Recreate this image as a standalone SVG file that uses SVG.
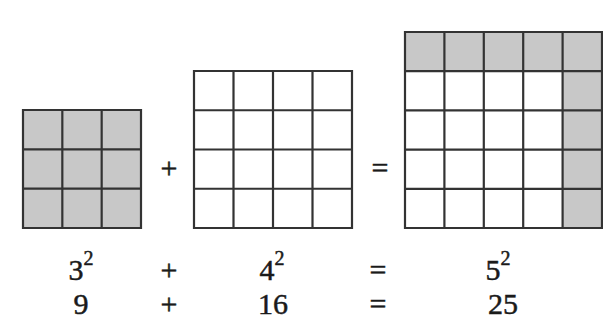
<svg xmlns="http://www.w3.org/2000/svg" width="603" height="320" viewBox="0 0 603 320">
<style>
.bg{fill:#ffffff}
.shade{fill:#c8c8c8;stroke:none}
.grid{fill:none;stroke:#333333;stroke-width:2.2}
.t{font-family:"Liberation Serif","Times New Roman",serif;font-size:30px;fill:#1a1a1a;stroke:#1a1a1a;stroke-width:0.5;text-anchor:middle}
.sup{font-size:20px}
</style>
<rect class="bg" x="0" y="0" width="603" height="320"/>
<g id="square3">
<rect class="shade" x="23" y="110" width="118" height="118"/>
<path class="grid" d="M23 110H141V228H23Z M62.33 110V228 M101.67 110V228 M23 149.33H141 M23 188.67H141"/>
</g>
<g id="plus-fig">
<text class="t" x="169" y="178">+</text>
</g>
<g id="square4">
<path class="grid" d="M194 71H352V228H194Z M233.5 71V228 M273 71V228 M312.5 71V228 M194 110.25H352 M194 149.5H352 M194 188.75H352"/>
</g>
<g id="equals-fig">
<text class="t" x="380" y="178">=</text>
</g>
<g id="square5">
<rect class="shade" x="405" y="32" width="197" height="39.2"/>
<rect class="shade" x="562.6" y="32" width="39.4" height="196"/>
<path class="grid" d="M405 32H602V228H405Z M444.4 32V228 M483.8 32V228 M523.2 32V228 M562.6 32V228 M405 71.2H602 M405 110.4H602 M405 149.6H602 M405 188.8H602"/>
</g>
<g id="row1">
<text class="t" x="81" y="280">3<tspan class="sup" dy="-15">2</tspan></text>
<text class="t" x="169" y="280">+</text>
<text class="t" x="272" y="280">4<tspan class="sup" dy="-15">2</tspan></text>
<text class="t" x="378" y="280">=</text>
<text class="t" x="498" y="280">5<tspan class="sup" dy="-15">2</tspan></text>
</g>
<g id="row2">
<text class="t" x="81" y="314">9</text>
<text class="t" x="169" y="314">+</text>
<text class="t" x="273" y="314">16</text>
<text class="t" x="378" y="314">=</text>
<text class="t" x="503" y="314">25</text>
</g>
</svg>
